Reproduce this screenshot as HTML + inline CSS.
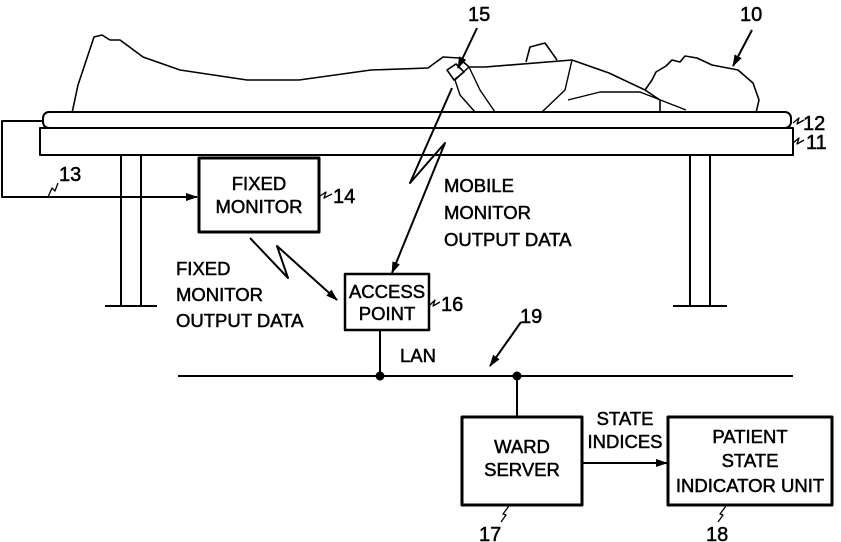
<!DOCTYPE html>
<html><head><meta charset="utf-8"><style>
html,body{margin:0;padding:0;background:#fff;}
svg{display:block;}
text{font-family:"Liberation Sans",sans-serif;font-size:18.5px;fill:#000;stroke:#000;stroke-width:0.5;}
text.n{font-size:20px;}
</style></head><body>
<svg width="841" height="542" viewBox="0 0 841 542" xmlns="http://www.w3.org/2000/svg">
<defs>
<marker id="ah" markerWidth="12" markerHeight="8" refX="11" refY="4" orient="auto" markerUnits="userSpaceOnUse">
<path d="M0,0 L12,4 L0,8 Z" fill="#000"/></marker>
</defs>
<g fill="none" stroke="#000" stroke-width="2" stroke-linejoin="round">
<!-- patient -->
<path d="M72,113 L78,85 L94,37 L102,35 L110,40 L120,40 L143,57 L180,70 L247,80 L299,80 L371,70 L428,68 L443,57 L459,58 L469,67 L485,67 L572,60 L609,73 L645,90 L660,100 L660,113" stroke-width="1.6"/>
<path d="M645,90 L652,80 L656,72 L666,66 L672,60 L680,62 L685,56 L697,58 L712,65 L738,70 L753,83 L759,100 L756,113" stroke-width="1.6"/>
<path d="M526,62 L530,47 L545,43 L557,60" stroke-width="1.6"/>
<path d="M572,60 L565,90 L542,112 M469,67 L480,90 L495,112 M469,67 L455,80 L460,95 L475,112 M568,100 L600,92 L640,92 L686,110" stroke-width="1.4"/>
<path d="M447,70 L456,64 L464,72 L454,80 Z" stroke-width="1.6"/>
<!-- mattress & frame -->
<rect x="43" y="112" width="748" height="16" rx="6"/>
<rect x="40" y="128" width="753" height="27"/>
<!-- legs -->
<path d="M121,155 V306 M141,155 V306 M105,306 H157"/>
<path d="M690,155 V306 M710,155 V306 M673,306 H727"/>
<!-- cable 13 -->
<path d="M44,121 H2 V197 H197" marker-end="url(#ah)"/>
<path d="M48,197 L52,188 L55,191 L58,183" stroke-width="1.3"/>
<!-- boxes -->
<rect x="199" y="158" width="120" height="74" stroke-width="3"/>
<rect x="345" y="274" width="84" height="56" stroke-width="2.5"/>
<rect x="462" y="417" width="120" height="88" stroke-width="3"/>
<rect x="668" y="417" width="164" height="88" stroke-width="3"/>
<!-- lightning fixed -->
<path d="M250,238 L288,278 L277,246 L337,300" marker-end="url(#ah)"/>
<!-- lightning mobile -->
<path d="M452,88 L410,183 L445,143 L392,273" marker-end="url(#ah)"/>
<!-- LAN -->
<path d="M178,376 H793"/>
<path d="M380,330 V376 M517,376 V417"/>
<path d="M582,463 H667" marker-end="url(#ah)"/>
<!-- leader arrows -->
<path d="M477,28 L458,68" marker-end="url(#ah)"/>
<path d="M752,30 L733,66" marker-end="url(#ah)"/>
<path d="M521,322 L490,366" marker-end="url(#ah)"/>
<!-- squiggles -->
<path d="M320,196 L326,192 L324,198 L332,194" stroke-width="1.3"/>
<path d="M430,305 L435,300 L433,306 L440,302" stroke-width="1.3"/>
<path d="M793,123 L799,118 L797,124 L804,120" stroke-width="1.3"/>
<path d="M793,143 L799,138 L797,144 L804,140" stroke-width="1.3"/>
<path d="M501,522 L506,515 L503,514 L509,506" stroke-width="1.3"/>
<path d="M718,522 L723,515 L720,514 L726,506" stroke-width="1.3"/>
</g>
<circle cx="380" cy="376" r="4.5"/>
<circle cx="517" cy="376" r="4.5"/>
<g text-anchor="middle">
<text x="259" y="190">FIXED</text>
<text x="259" y="213">MONITOR</text>
<text x="387" y="298">ACCESS</text>
<text x="387" y="320">POINT</text>
<text x="522" y="453">WARD</text>
<text x="522" y="476">SERVER</text>
<text x="750" y="443">PATIENT</text>
<text x="750" y="467">STATE</text>
<text x="750" y="492">INDICATOR UNIT</text>
<text x="625" y="425">STATE</text>
<text x="625" y="448">INDICES</text>
</g>
<text x="176" y="275">FIXED</text>
<text x="176" y="301">MONITOR</text>
<text x="176" y="327">OUTPUT DATA</text>
<text x="444" y="192">MOBILE</text>
<text x="444" y="219">MONITOR</text>
<text x="444" y="246">OUTPUT DATA</text>
<text x="400" y="362">LAN</text>
<text class="n" x="59" y="181">13</text>
<text class="n" x="333" y="203">14</text>
<text class="n" x="441" y="311">16</text>
<text class="n" x="468" y="21">15</text>
<text class="n" x="740" y="21">10</text>
<text class="n" x="803" y="130">12</text>
<text class="n" x="806" y="149">11</text>
<text class="n" x="520" y="323">19</text>
<text class="n" x="479" y="541">17</text>
<text class="n" x="706" y="541">18</text>
</svg>
</body></html>
